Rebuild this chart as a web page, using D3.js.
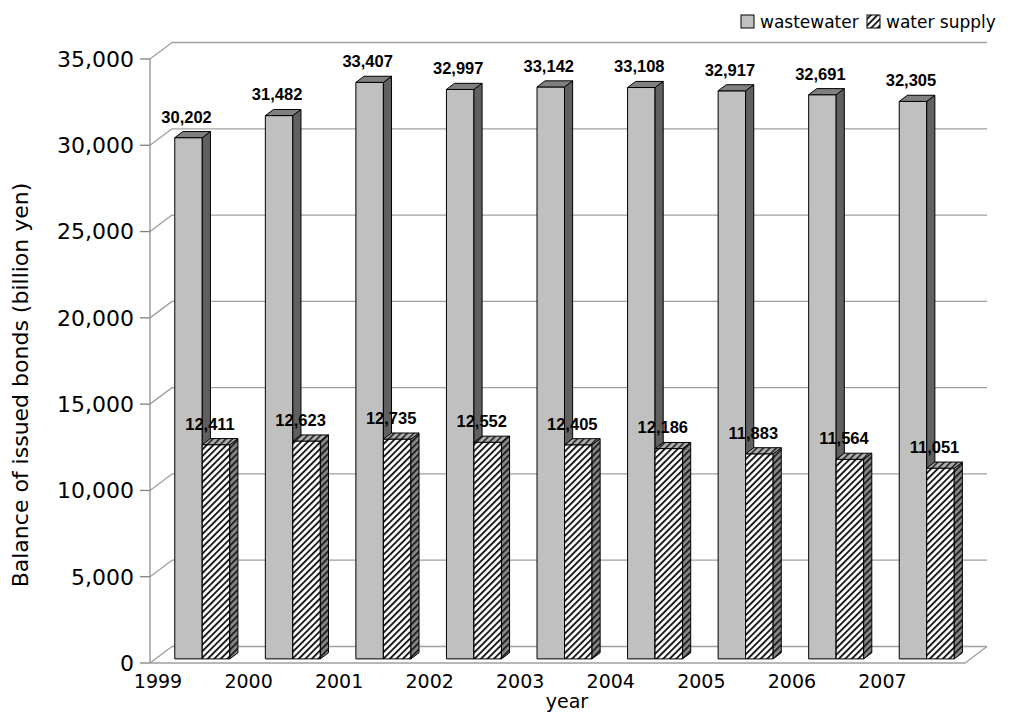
<!DOCTYPE html>
<html>
<head>
<meta charset="utf-8">
<script src="https://cdn.jsdelivr.net/npm/d3@7"></script>
<style>
  html, body { margin: 0; padding: 0; background: #fff; }
  svg { display: block; }
  text { font-family: "DejaVu Sans", Arial, sans-serif; fill: #000; }
  text.val { font-family: "Liberation Sans", Arial, sans-serif; }
</style>
</head>
<body>
<svg id="chart" width="1015" height="714"></svg>
<script>
// Balance of issued bonds, billion yen
const years = ["1999", "2000", "2001", "2002", "2003", "2004", "2005", "2006", "2007"];
const wastewater = [30202, 31482, 33407, 32997, 33142, 33108, 32917, 32691, 32305];
const waterSupply = [12411, 12623, 12735, 12552, 12405, 12186, 11883, 11564, 11051];
const yTicks = [0, 5000, 10000, 15000, 20000, 25000, 30000, 35000];
const seriesNames = ["wastewater", "water supply"];

const svg = d3.select("#chart");

// plot frame (front plane) and 3D depth offset of the back wall
const plotLeft = 150, plotRight = 965, plotBottom = 663, plotTop = 59;
const depthX = 22, depthY = -16.5;

const y = d3.scaleLinear().domain([0, 35000]).range([plotBottom, plotTop]);
const x = d3.scaleBand().domain(years).range([plotLeft, plotRight]);
const fmt = d3.format(",");

// hatch patterns for the water supply series
const defs = svg.append("defs");
function hatch(id, bg, fg, sw) {
  const p = defs.append("pattern")
    .attr("id", id).attr("patternUnits", "userSpaceOnUse")
    .attr("width", 4.6).attr("height", 4.6)
    .attr("patternTransform", "rotate(45)");
  p.append("rect").attr("width", 4.6).attr("height", 4.6).attr("fill", bg);
  p.append("rect").attr("width", sw).attr("height", 4.6).attr("fill", fg);
}
hatch("hatchFront", "#ffffff", "#1a1a1a", 1.9);
hatch("hatchTop", "#b0b0b0", "#333333", 1.9);
hatch("hatchSide", "#8a8a8a", "#222222", 2.0);

// ---- walls, gridlines, floor ----
const grid = svg.append("g").attr("fill", "none");
yTicks.forEach(t => {
  const yy = y(t);
  // back wall gridline
  grid.append("line")
    .attr("x1", plotLeft + depthX).attr("x2", plotRight + depthX)
    .attr("y1", yy + depthY).attr("y2", yy + depthY)
    .attr("stroke", "#a0a0a0").attr("stroke-width", 1.3);
  // side wall gridline
  grid.append("line")
    .attr("x1", plotLeft).attr("y1", yy)
    .attr("x2", plotLeft + depthX).attr("y2", yy + depthY)
    .attr("stroke", "#a0a0a0").attr("stroke-width", 1.3);
  // tick mark
  grid.append("line")
    .attr("x1", plotLeft - 10).attr("x2", plotLeft)
    .attr("y1", yy).attr("y2", yy)
    .attr("stroke", "#808080").attr("stroke-width", 1.3);
});
// floor outline
grid.append("path")
  .attr("d", `M${plotLeft},${y(0)} L${plotRight},${y(0)} L${plotRight + depthX},${y(0) + depthY}`)
  .attr("stroke", "#a0a0a0").attr("stroke-width", 1.3);
// front vertical axis
grid.append("line")
  .attr("x1", plotLeft).attr("x2", plotLeft)
  .attr("y1", y(35000)).attr("y2", y(0))
  .attr("stroke", "#909090").attr("stroke-width", 1.3);

// ---- bars ----
const barW = 27.5;
const fFront = 0.25, fBack = 0.62; // depth fractions of bar front/back faces
const offX0 = depthX * fFront, offY0 = depthY * fFront;
const sideX = depthX * (fBack - fFront), sideY = depthY * (fBack - fFront);
const groupShift = (x.bandwidth() - 2 * barW) / 2 + 1.5;

const series = [
  { name: seriesNames[0], values: wastewater, front: "#c0c0c0", topFill: "#808080", side: "#606060", labelDx: -2 },
  { name: seriesNames[1], values: waterSupply, front: "url(#hatchFront)", topFill: "url(#hatchTop)", side: "url(#hatchSide)", labelDx: -6 }
];

const bars = svg.append("g").attr("stroke", "#000").attr("stroke-width", 1).attr("stroke-linejoin", "round");
const labels = svg.append("g");

years.forEach((yr, i) => {
  series.forEach((s, k) => {
    const v = s.values[i];
    const x0 = x(yr) + groupShift + k * barW + offX0;
    const x1 = x0 + barW;
    const yb = y(0) + offY0;
    const yt = y(v) + offY0;
    const g = bars.append("g");
    // front face
    g.append("path")
      .attr("d", `M${x0},${yb} L${x0},${yt} L${x1},${yt} L${x1},${yb} Z`)
      .attr("fill", s.front);
    // side face
    g.append("path")
      .attr("d", `M${x1},${yb} L${x1},${yt} L${x1 + sideX},${yt + sideY} L${x1 + sideX},${yb + sideY} Z`)
      .attr("fill", s.side);
    // top face
    g.append("path")
      .attr("d", `M${x0},${yt} L${x0 + sideX},${yt + sideY} L${x1 + sideX},${yt + sideY} L${x1},${yt} Z`)
      .attr("fill", s.topFill);
    // value label
    labels.append("text")
      .attr("class", "val")
      .attr("x", (x0 + x1) / 2 + s.labelDx)
      .attr("y", yt + sideY - 9)
      .attr("text-anchor", "middle")
      .attr("font-size", 16.5)
      .attr("font-weight", "bold")
      .text(fmt(v));
  });
});

// ---- axis labels ----
const axisText = svg.append("g");
yTicks.forEach(t => {
  axisText.append("text")
    .attr("x", 134).attr("y", y(t))
    .attr("dy", "0.36em")
    .attr("text-anchor", "end")
    .attr("font-size", 22)
    .text(fmt(t));
});
years.forEach(yr => {
  axisText.append("text")
    .attr("x", x(yr) + 8)
    .attr("y", 688)
    .attr("text-anchor", "middle")
    .attr("font-size", 19)
    .text(yr);
});
axisText.append("text")
  .attr("x", 567).attr("y", 708)
  .attr("text-anchor", "middle")
  .attr("font-size", 19)
  .text("year");
axisText.append("text")
  .attr("transform", `translate(28,385) rotate(-90)`)
  .attr("text-anchor", "middle")
  .attr("font-size", 22)
  .text("Balance of issued bonds (billion yen)");

// ---- legend ----
const legend = svg.append("g");
const legendItems = [
  { name: seriesNames[0], fill: "#c0c0c0", xText: 760 },
  { name: seriesNames[1], fill: "url(#hatchFront)", xText: 886 }
];
legendItems.forEach(d => {
  legend.append("rect")
    .attr("x", d.xText - 19).attr("y", 15)
    .attr("width", 13).attr("height", 13)
    .attr("fill", d.fill).attr("stroke", "#000").attr("stroke-width", 1);
  legend.append("text")
    .attr("x", d.xText).attr("y", 28)
    .attr("font-size", 17)
    .text(d.name);
});
</script>
</body>
</html>
